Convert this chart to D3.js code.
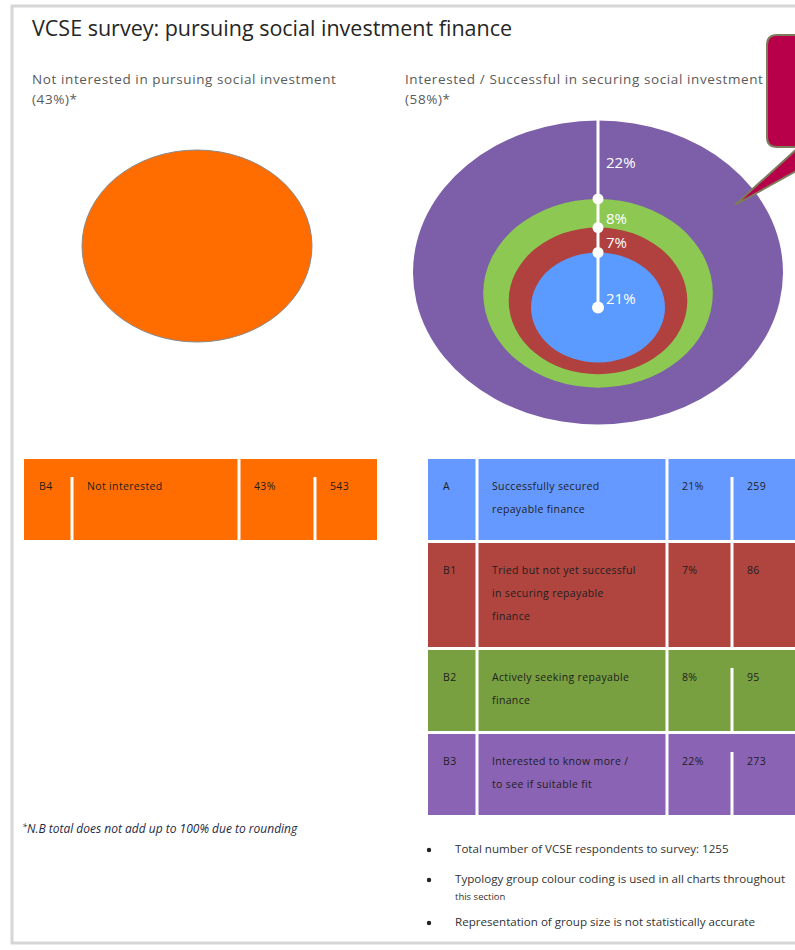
<!DOCTYPE html>
<html>
<head>
<meta charset="utf-8">
<script src="https://cdn.jsdelivr.net/npm/d3@7"></script>
<style>
  body { margin: 0; background: #fff; }
  svg text { font-family: "Open Sans", "DejaVu Sans", sans-serif; }
</style>
</head>
<body>
<svg id="board" width="795" height="950"></svg>
<script>
// data
groups = ['A', 'B1', 'B2', 'B3'];
descriptions = [['Successfully secured', 'repayable finance'],
                ['Tried but not yet successful', 'in securing repayable', 'finance'],
                ['Actively seeking repayable', 'finance'],
                ['Interested to know more /', 'to see if suitable fit']];
percents = [21, 7, 8, 22];
counts = [259, 86, 95, 273];

other_group = ['B4'];
other_desc = [['Not interested']];
other_percent = [43];
other_count = [543];

ring_colors = ['#5b9bff', '#b0413e', '#8cc852', '#7c5fa8'];
row_colors = ['#6699ff', '#b0453f', '#78a040', '#8a63b5'];
orange = '#ff6d00';

notes = [['Total number of VCSE respondents to survey: 1255'],
         ['Typology group colour coding is used in all charts throughout', 'this section'],
         ['Representation of group size is not statistically accurate']];

board = d3.select('#board');

// frame
board.append('rect')
    .attr('x', 12).attr('y', 6).attr('width', 800).attr('height', 937)
    .attr('fill', 'none').attr('stroke', '#d6d6d6').attr('stroke-width', 3);

board.append('text')
    .attr('x', 32).attr('y', 36)
    .attr('font-size', 21.5).attr('fill', '#262626')
    .text('VCSE survey: pursuing social investment finance');

function subtitle(x, lines){
    lines.forEach(function(t, i){
        board.append('text')
            .attr('x', x).attr('y', 84 + i*20)
            .attr('font-size', 13.5).attr('letter-spacing', 0.6).attr('fill', '#5a5a5a')
            .text(t);
    });
}
subtitle(32, ['Not interested in pursuing social investment', '(' + other_percent[0] + '%)*']);
subtitle(405, ['Interested / Successful in securing social investment', '(' + d3.sum(percents) + '%)*']);

// left ellipse
left_rx = d3.scaleLinear().domain([0, 43]).range([0, 115]);
left_ry = d3.scaleLinear().domain([0, 43]).range([0, 96]);
board.append('ellipse')
    .attr('cx', 197).attr('cy', 246)
    .attr('rx', left_rx(other_percent[0])).attr('ry', left_ry(other_percent[0]))
    .attr('fill', orange).attr('stroke', '#8a8a8a').attr('stroke-width', 1);

// nested rings, cumulative from the inside out
cum = [];
percents.reduce(function(a, v){ cum.push(a + v); return a + v; }, 0);
total = cum[cum.length - 1];

rx = d3.scaleLinear().domain([0, total]).range([0, 185]);
ry = d3.scaleLinear().domain([0, total]).range([0, 152]);
cy = d3.scaleLinear().domain([0, total]).range([327.4, 272.5]);
cx = 598;
top_y = function(c){ return cy(c) - ry(c); };

rings = board.append('g');
for(i = cum.length - 1; i >= 0; i--){
    rings.append('ellipse')
        .attr('cx', cx).attr('cy', cy(cum[i]))
        .attr('rx', rx(cum[i])).attr('ry', ry(cum[i]))
        .attr('fill', ring_colors[i]);
}

center_y = cy(cum[0]);
rings.append('line')
    .attr('x1', cx).attr('x2', cx)
    .attr('y1', top_y(total) - 1).attr('y2', center_y)
    .attr('stroke', '#fff').attr('stroke-width', 3);

dots = cum.slice(0, -1).map(top_y).concat([center_y]);
dots.forEach(function(y, idx){
    rings.append('circle')
        .attr('cx', cx).attr('cy', y)
        .attr('r', idx === dots.length - 1 ? 6 : 5.5)
        .attr('fill', '#fff');
});

cum.forEach(function(c, i){
    upper = top_y(c);
    lower = i === 0 ? center_y : top_y(cum[i-1]);
    y = (i === cum.length - 1) ? (upper + lower)/2 + 8 : lower - 4;
    rings.append('text')
        .attr('x', cx + 8).attr('y', y)
        .attr('font-size', 15).attr('fill', '#fff')
        .text(percents[i] + '%');
});

// callout
board.append('path')
    .attr('d', 'M767,45 Q767,35 777,35 L830,35 L830,147 L839,147 L735,205 L799,147 L777,147 Q767,147 767,137 Z')
    .attr('fill', '#b8004a').attr('stroke', '#7d7b5c').attr('stroke-width', 2);

// tables
function draw_table(cols, top, g, desc, pct, cnt, colors, late){
    y = top;
    g.forEach(function(code, r){
        h = 35 + 23*Math.max(2, desc[r].length);
        board.append('rect')
            .attr('x', cols[0]).attr('y', y)
            .attr('width', cols[cols.length-1] - cols[0]).attr('height', h)
            .attr('fill', colors[r]);
        for(k = 1; k < cols.length - 1; k++){
            gap = late[r].indexOf(k) >= 0 ? 18 : 0;
            board.append('line')
                .attr('x1', cols[k]).attr('x2', cols[k])
                .attr('y1', y + gap).attr('y2', y + h)
                .attr('stroke', '#fff').attr('stroke-width', 3);
        }
        cells = [[code], desc[r], [pct[r] + '%'], [String(cnt[r])]];
        cells.forEach(function(lines, c){
            lines.forEach(function(t, li){
                board.append('text')
                    .attr('x', cols[c] + 15).attr('y', y + 31 + li*23)
                    .attr('font-size', 10.5).attr('letter-spacing', 0.35).attr('fill', '#1e1e1e')
                    .text(t);
            });
        });
        y += h + 3;
    });
}

draw_table([24, 72, 239, 315, 377], 459, other_group, other_desc, other_percent, other_count, [orange], [[1, 3]]);
draw_table([428, 477, 667, 732, 795], 459, groups, descriptions, percents, counts, row_colors, [[3], [], [3], [3]]);

// footnote
foot = board.append('text')
    .attr('x', 22).attr('y', 833)
    .attr('font-size', 12).attr('font-style', 'italic').attr('fill', '#1f2a44');
foot.append('tspan').attr('font-size', 9).attr('dy', -3).text('*');
foot.append('tspan').attr('dy', 3).text('N.B total does not add up to 100% due to rounding');

// bullet notes
note_y = [853, 883, 926];
notes.forEach(function(lines, i){
    board.append('circle')
        .attr('cx', 429).attr('cy', note_y[i] - 3).attr('r', 2.2)
        .attr('fill', '#222');
    lines.forEach(function(t, li){
        board.append('text')
            .attr('x', 455).attr('y', note_y[i] + li*17)
            .attr('font-size', li === 0 ? 11.6 : 9.5).attr('fill', '#333')
            .text(t);
    });
});
</script>
</body>
</html>
